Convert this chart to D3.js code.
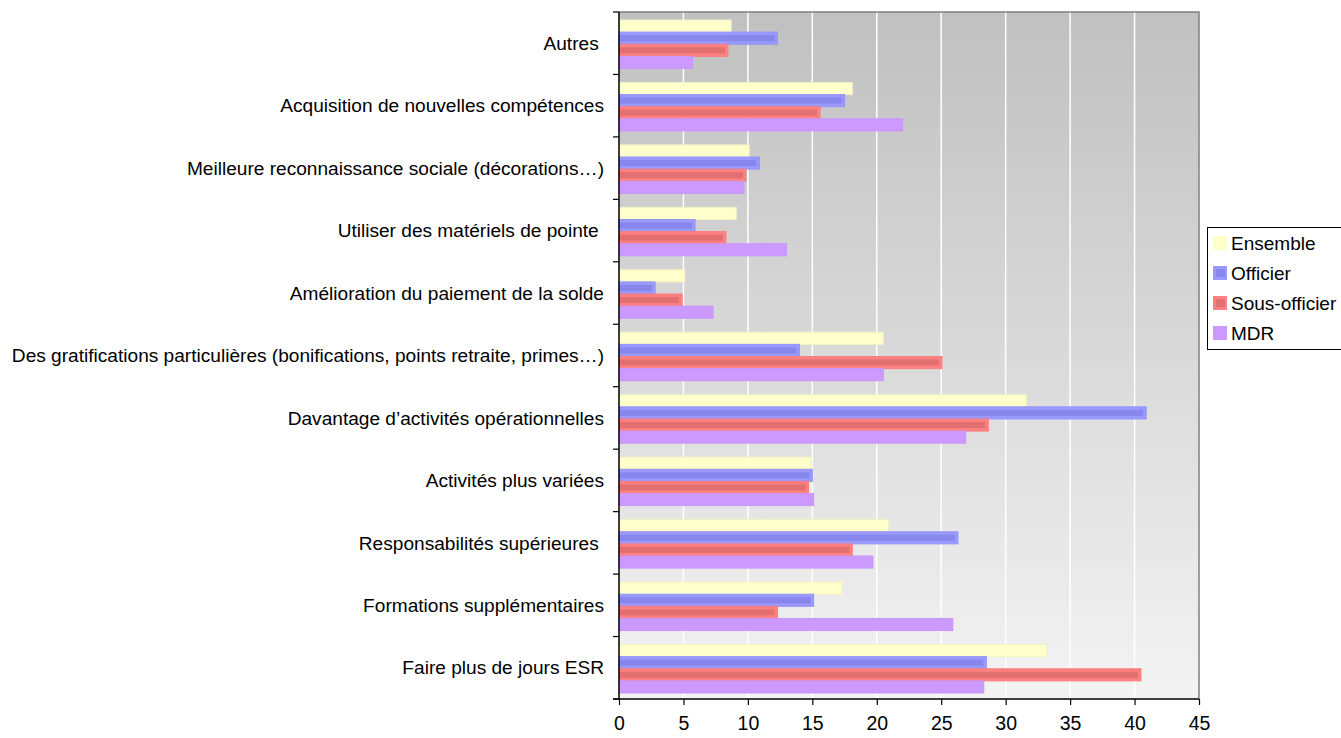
<!DOCTYPE html>
<html>
<head>
<meta charset="utf-8">
<script src="https://cdn.jsdelivr.net/npm/d3@7"></script>
<style>
  html, body { margin: 0; padding: 0; background: #fff; }
  svg { display: block; font-family: "Liberation Sans", Arial, sans-serif; }
</style>
</head>
<body>
<svg id="chart" width="1341" height="738"></svg>
<script>
const categories = [
  "Autres ",
  "Acquisition de nouvelles compétences",
  "Meilleure reconnaissance sociale (décorations…)",
  "Utiliser des matériels de pointe ",
  "Amélioration du paiement de la solde",
  "Des gratifications particulières (bonifications, points retraite, primes…)",
  "Davantage d’activités opérationnelles",
  "Activités plus variées",
  "Responsabilités supérieures ",
  "Formations supplémentaires",
  "Faire plus de jours ESR"
];
const seriesNames = ["Ensemble", "Officier", "Sous-officier", "MDR"];
const ensemble     = [8.7, 18.1, 10.1, 9.1, 5.1, 20.5, 31.6, 14.9, 20.9, 17.3, 33.2];
const officier     = [12.3, 17.5, 10.9, 5.9, 2.8, 14.0, 40.9, 15.0, 26.3, 15.1, 28.5];
const sousOfficier = [8.45, 15.6, 9.85, 8.3, 4.9, 25.05, 28.65, 14.7, 18.1, 12.3, 40.5];
const mdr          = [5.7, 22.0, 9.7, 13.0, 7.3, 20.5, 26.9, 15.1, 19.7, 25.9, 28.3];
const xTicks = [0, 5, 10, 15, 20, 25, 30, 35, 40, 45];

(function () {
const seriesValues = [ensemble, officier, sousOfficier, mdr];
const colors = ["#FFFFCC", "#9999FF", "#FF8080", "#CC99FF"];
const innerColors = [null, "#8686EC", "#E27070", null];
const edgeColors = ["#F2F2C4", "#9494FA", "#FA7E7E", "#C897FA"];

const svg = d3.select("#chart");
const pLeft = 619, pRight = 1199, pTop = 12, pBottom = 699;

const x = d3.scaleLinear().domain([0, 45]).range([pLeft, pRight]);
const y = d3.scaleBand().domain(categories).range([pTop, pBottom]).padding(0);
const inner = d3.scaleBand().domain(seriesNames)
  .range([8, y.bandwidth() - 6]).padding(0);

const defs = svg.append("defs");
const grad = defs.append("linearGradient").attr("id", "bg")
  .attr("x1", 0).attr("y1", 0).attr("x2", 0).attr("y2", 1);
grad.append("stop").attr("offset", "0%").attr("stop-color", "#c0c0c0");
grad.append("stop").attr("offset", "100%").attr("stop-color", "#f3f3f3");

svg.append("rect")
  .attr("x", pLeft).attr("y", pTop)
  .attr("width", pRight - pLeft).attr("height", pBottom - pTop)
  .attr("fill", "url(#bg)");

svg.append("g").selectAll("line")
  .data(xTicks.filter(d => d > 0 && d < 45))
  .join("line")
  .attr("x1", d => x(d)).attr("x2", d => x(d))
  .attr("y1", pTop).attr("y2", pBottom)
  .attr("stroke", "#ffffff").attr("stroke-width", 1.5);

svg.append("path")
  .attr("d", `M${pLeft},${pTop}H${pRight}V${pBottom}`)
  .attr("fill", "none").attr("stroke", "#808080").attr("stroke-width", 1.5);

const rows = [];
categories.forEach((c, i) => {
  seriesNames.forEach((s, j) => {
    rows.push({ cat: c, s: s, j: j, v: seriesValues[j][i] });
  });
});

const bars = svg.append("g");
bars.selectAll("rect.bar")
  .data(rows)
  .join("rect")
  .attr("class", "bar")
  .attr("x", x(0))
  .attr("y", d => y(d.cat) + inner(d.s))
  .attr("width", d => x(d.v) - x(0))
  .attr("height", inner.bandwidth())
  .attr("fill", d => colors[d.j])
  .attr("stroke", d => edgeColors[d.j])
  .attr("stroke-width", 1);

bars.selectAll("rect.inner")
  .data(rows.filter(d => innerColors[d.j]))
  .join("rect")
  .attr("class", "inner")
  .attr("x", x(0))
  .attr("y", d => y(d.cat) + inner(d.s) + 3)
  .attr("width", d => Math.max(0, x(d.v) - x(0) - 3))
  .attr("height", inner.bandwidth() - 6)
  .attr("fill", d => innerColors[d.j]);

const yAxis = svg.append("g");
yAxis.append("line")
  .attr("x1", pLeft).attr("x2", pLeft).attr("y1", pTop).attr("y2", pBottom)
  .attr("stroke", "#000").attr("stroke-width", 1.5);
const boundaries = categories.map(c => y(c)).concat([pBottom]);
yAxis.selectAll("line.tick").data(boundaries).join("line")
  .attr("class", "tick")
  .attr("x1", pLeft - 6).attr("x2", pLeft)
  .attr("y1", d => d).attr("y2", d => d)
  .attr("stroke", "#000").attr("stroke-width", 1.2);
yAxis.selectAll("text").data(categories).join("text")
  .attr("x", 604)
  .attr("y", d => y(d) + y.bandwidth() / 2)
  .attr("dy", "0.35em")
  .attr("text-anchor", "end")
  .style("white-space", "pre")
  .attr("font-size", 19.1)
  .attr("fill", "#000")
  .text(d => d);

const xAxis = svg.append("g").attr("transform", `translate(0,${pBottom})`)
  .call(d3.axisBottom(x).tickValues(xTicks).tickSize(6).tickPadding(11).tickFormat(d3.format("d")));
xAxis.select(".domain").attr("stroke", "#000").attr("stroke-width", 1.5)
  .attr("d", `M${pLeft - 6},0H${pRight}`);
xAxis.selectAll(".tick line").attr("stroke", "#000").attr("stroke-width", 1.2);
xAxis.selectAll(".tick text")
  .attr("font-size", 19.5)
  .attr("font-family", "\"Liberation Sans\", Arial, sans-serif")
  .attr("fill", "#000");

const lg = svg.append("g");
lg.append("rect")
  .attr("x", 1207.5).attr("y", 227.5)
  .attr("width", 140).attr("height", 122)
  .attr("fill", "#fff").attr("stroke", "#000").attr("stroke-width", 1);
const items = lg.selectAll("g.item").data(seriesNames).join("g")
  .attr("class", "item")
  .attr("transform", (d, i) => `translate(1213,${243 + i * 30})`);
items.append("rect")
  .attr("x", 0).attr("y", -7).attr("width", 14).attr("height", 14)
  .attr("fill", (d, i) => colors[i]);
items.filter((d, i) => innerColors[i]).append("rect")
  .attr("x", 3).attr("y", -4).attr("width", 9).attr("height", 8)
  .attr("fill", (d) => innerColors[seriesNames.indexOf(d)]);
items.append("text")
  .attr("x", 18).attr("y", 0).attr("dy", "0.35em")
  .attr("font-size", 19)
  .attr("fill", "#000")
  .text(d => d);
})();
</script>
</body>
</html>
